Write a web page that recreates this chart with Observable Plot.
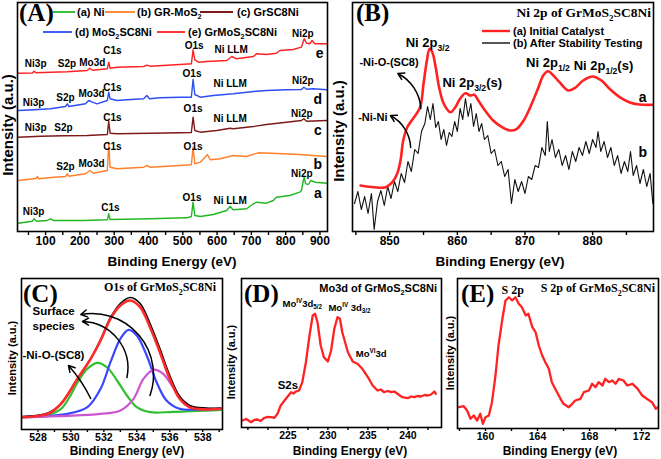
<!DOCTYPE html>
<html><head><meta charset="utf-8">
<script src="https://cdn.jsdelivr.net/npm/d3@7"></script>
<script src="https://cdn.jsdelivr.net/npm/@observablehq/plot@0.6"></script>
<style>
body{margin:0;background:#fff;}
#root{position:relative;width:661px;height:459px;overflow:hidden;background:#fff}
#root svg{position:absolute;overflow:visible}
</style></head><body><div id="root"></div>
<script>
// ---------- Panel A: XPS survey spectra [binding energy eV, intensity a.u.] ----------
const surveyNi = [[20,8.3],[61,10.3],[66,12.7],[74,10.3],[105,11],[114,12.7],[124,11],[211,11],[280,11.7],[284,17.7],[288,12],[405,12.7],[512,13.7],[525,15],[530,29.3],[535,16],[551,15],[589,17],[628,21],[638,25],[647,21.7],[686,22.7],[706,27.7],[715,29.3],[744,28.3],[764,31],[773,34.3],[812,36],[841,39.3],[846,41],[851,50],[854,54.3],[858,48],[863,47],[868,47.7],[873,51],[877,50.5],[885,49.3],[920,48.3]];
const surveyGrMoS2 = [[20,51],[72,53],[76,55],[80,52.7],[124,54.3],[158,55],[163,57.7],[168,55.3],[216,57.7],[229,61],[239,58.3],[280,61],[284,89.3],[288,64.3],[308,62.7],[386,64.3],[395,66],[405,64.3],[492,66],[525,66.7],[530,84.3],[535,67.7],[551,69.3],[565,74.3],[572,77],[580,71.7],[609,72.7],[647,76],[686,75],[710,77.7],[720,78.7],[793,77.7],[841,77],[920,75]];
const surveyGrSC8Ni = [[20,94.3],[85,95.3],[153,95.7],[221,96],[280,97],[284,110.3],[288,98.3],[308,97.7],[405,98.3],[492,98.7],[525,99],[530,114.3],[535,101],[551,99.3],[599,101],[638,103.3],[647,102.7],[706,105],[744,107],[802,109.3],[846,111],[853,112.7],[861,110.3],[920,111]];
const surveyMoS2SC8Ni = [[20,121],[66,121.7],[114,122.7],[158,125],[163,127.7],[168,125],[216,127.7],[226,131],[236,129.3],[250,127.7],[280,131],[284,139.3],[288,132.7],[308,131],[337,131.7],[386,132.7],[395,136],[403,132.7],[434,133.7],[492,134.3],[525,134.3],[530,152],[535,137],[551,134.3],[589,136],[647,137.7],[715,140.3],[744,141],[802,141.7],[846,142],[853,144.3],[861,142.3],[880,142.7],[920,141.7]];
const surveyGrMoS2SC8Ni = [[20,158.3],[62,158.5],[66,160.3],[72,158.7],[114,159.3],[163,159.7],[221,161],[229,163.3],[237,161.3],[280,162.7],[284,169.3],[288,163.3],[308,164.3],[386,165],[395,166.3],[405,165.3],[492,167],[525,167.7],[530,181.7],[535,171.7],[546,169.3],[570,170],[628,171],[643,175],[657,172.7],[706,175],[715,177.7],[744,177],[773,178.3],[783,181],[822,182],[846,184.3],[854,192.7],[861,188.3],[870,187.7],[877,191],[885,187.7],[920,187.7]];
const surveyNames = ["(a) Ni","(b) GR-MoS_{2}","(c) GrSC8Ni","(d) MoS_{2}SC8Ni","(e) GrMoS_{2}SC8Ni"];
const surveyTicks = [50,100,150,200,250,300,350,400,450,500,550,600,650,700,750,800,850,900];
const surveyTickLabels = [100,200,300,400,500,600,700,800,900];
const surveyPeakLabels = [
  ["Ni3p",71,168],["S2p",162,168],["Mo3d",236,169],["C1s",295,181],["O1s",533,186],["Ni LLM",641,182],["Ni2p",850,198],
  ["Ni3p",65,129],["S2p",158,134],["Mo3d",234,138],["C1s",295,144],["O1s",527,158],["Ni LLM",638,148],["Ni2p",850,151],
  ["Ni3p",71,104],["S2p",152,104],["C1s",295,114],["O1s",530,123],["Ni LLM",638,113],["Ni2p",847,118],
  ["S2p",158,65],["Mo3d",234,68],["C1s",295,85],["O1s",530,85],
  ["Ni3p",65,20],["C1s",289,24],["O1s",527,34],["Ni LLM",638,31],["Ni2p",847,58]
];
const surveyCurveTags = [["e",899,178],["d",894,132],["c",894,101],["b",894,67],["a",894,38]];

// ---------- Panel B: Ni 2p ----------
const ni2pInitial = [[845.7,46],[847.7,44.3],[849.4,44.3],[850.4,49.3],[851.1,57.7],[851.6,71],[852,91],[852.6,104.3],[853.6,114.3],[854.5,124.3],[855,147.7],[855.5,171],[855.9,182.7],[856.3,179.3],[856.8,164.3],[857.3,144.3],[858,127.7],[859,119.3],[859.7,124.3],[860.4,132.7],[861.2,138.3],[861.9,136],[862.5,136.7],[863.1,131],[864.1,121],[865.3,111],[866.6,104.3],[867.8,101],[868.8,102.7],[869.8,111],[871,127.7],[872,144.3],[872.7,156],[873.4,160.3],[874.2,156],[875.1,149.3],[876.4,141],[877.4,143.7],[878.6,151],[880,155],[881.3,151],[882.5,142.7],[884,134.3],[885.4,129.3],[886.9,127],[888.9,126.7]];
const ni2pAfter = [[844.8,28],[845.3,40],[845.8,22],[846.3,35],[846.8,18],[847.3,38],[847.7,2],[848.2,30],[848.7,41],[849.2,26],[849.7,45],[850.2,33],[850.7,50],[851.2,40],[851.7,58],[852.2,49],[852.7,70],[853.2,60],[853.7,82],[854.2,78],[854.7,100],[855.2,108],[855.6,125],[856,112],[856.4,128],[856.8,104],[857.2,110],[857.6,92],[858,102],[858.4,86],[858.8,99],[859.2,95],[859.6,110],[860,100],[860.4,123],[860.8,112],[861.2,133],[861.6,115],[862,128],[862.4,105],[862.8,118],[863.2,100],[863.6,108],[864,92],[864.5,96],[865,78],[865.5,82],[866,66],[866.5,70],[867,55],[867.5,62],[868,28],[868.5,52],[869,40],[869.5,50],[870,38],[870.5,55],[871,52],[871.5,66],[872,64],[872.5,84],[873,76],[873.3,110],[873.6,80],[874,92],[874.5,74],[875,82],[875.5,66],[876,76],[876.5,62],[877,80],[877.5,70],[878,84],[878.5,76],[879,90],[879.5,78],[880,92],[880.5,84],[880.8,100],[881.2,80],[881.7,90],[882.2,74],[882.7,84],[883.2,66],[883.7,76],[884.2,58],[884.7,70],[885.2,60],[885.6,80],[886,56],[886.5,66],[887,48],[887.5,62],[888,45],[888.5,58],[888.9,28]];
const ni2pNames = ["(a) Initial Catalyst","(b) After Stability Testing"];
const ni2pTicks = [845,850,855,860,865,870,875,880,885];
const ni2pTickLabels = [850,860,870,880];
const ni2pLabels = [["Ni 2p_{3/2}",855.6,189],["-Ni-O-(SC8)",849.9,169],["Ni 2p_{3/2}(s)",862.2,149],["Ni 2p_{1/2}",873.4,169],["Ni 2p_{1/2}(s)",881.6,166],["-Ni-Ni",847.5,114]];
const ni2pTags = [["a",887.4,134],["b",887.4,79]];
// arrows: [x1, y1, x2, y2, bend]
const ni2pArrows = [[854.6,123,851.2,158,-30],[853.1,84,850.1,116,-30]];

// ---------- Panel C: O1s ----------
const o1sRaw = [[527.05,14],[528.6,17.5],[529.4,27],[530.4,52],[531.2,72],[531.8,91],[532.4,113],[533,127],[533.6,133],[534.2,127],[534.8,107],[535.4,82],[536,55],[536.6,34],[537.2,25],[538.2,22.5],[539.1,22.5]];
const o1sEnvelope = [[527.05,13.3],[528.6,16.7],[529.4,26.7],[530.4,51.7],[531.2,71.7],[531.8,90],[532.4,111.7],[533,125],[533.6,130],[534.2,123.3],[534.8,103.3],[535.4,78.3],[536,51.7],[536.6,31.7],[537.2,23.3],[538.2,21],[539.1,21.7]];
const o1sNiO = [[527.05,13.3],[528.6,15.7],[529.4,21.7],[529.9,33],[530.4,48],[531,61.7],[531.6,67.7],[532.2,63],[532.8,50],[533.4,35],[534,23.3],[534.8,18.3],[536.2,18.7],[539.1,20.7]];
const o1sSurf1 = [[527.05,13.3],[529.8,16.7],[531,23.3],[531.8,41.7],[532.4,68.3],[533,91.7],[533.5,100.7],[534,95],[534.6,75],[535.2,48.3],[535.8,30],[536.6,21.7],[537.8,21],[539.1,21.7]];
const o1sSurf2 = [[527.05,13.3],[531.8,16.7],[533,20],[533.8,31.7],[534.4,51.7],[535,60.7],[535.6,56.7],[536.2,43.3],[536.8,30],[537.4,23.3],[538.2,21.7],[539.1,21.7]];
const o1sTicks = [528,529,530,531,532,533,534,535,536,537,538,539];
const o1sTickLabels = [528,530,532,534,536,538];
const o1sLabels = [["Surface",527.67,119],["species",527.67,104],["-Ni-O-(SC8)",527.06,75]];
const o1sArrows = [[531.2,32,529.85,65,-8],[534.8,35,530.6,116,-60],[533.4,53,530.7,109,-50]];

// ---------- Panel D: Mo3d ----------
const mo3d = [[219.3,7],[219.8,8.5],[220.4,5.3],[220.8,7.5],[221.2,8],[221.6,6.5],[222,9.3],[222.4,10.5],[222.9,10.3],[223.3,9.6],[223.7,13.7],[224.1,22],[224.75,28.7],[225.4,35.3],[225.7,34],[226,36],[226.4,37],[226.8,45.3],[227.25,65.3],[227.7,92],[228.1,112],[228.4,113.7],[228.7,105.3],[229.1,82],[229.5,70.3],[230,66],[230.4,77],[230.8,98.7],[231.2,110.3],[231.5,108.7],[231.8,95.3],[232.5,75.3],[233.1,66],[233.7,63.7],[234.3,58.7],[235,50.3],[235.6,42],[236.2,37],[236.6,38],[237,35.3],[237.5,36.5],[237.9,35.3],[238.3,36],[238.7,33.7],[239.3,30.3],[240,29.3],[240.4,31],[240.8,30.3],[241.2,31.5],[241.6,31],[242.1,32.5],[242.5,32],[242.9,33],[243.3,36],[243.5,33.7]];
const mo3dTicks = [220,222.5,225,227.5,230,232.5,235,237.5,240,242.5];
const mo3dTickLabels = [225,230,235,240];
const mo3dLabels = [["Mo^{IV}3d_{5/2}",226.8,124],["Mo^{IV} 3d_{3/2}",232.7,120],["Mo^{VI}3d",235.4,74],["S2s",225,42]];

// ---------- Panel E: S 2p ----------
const s2p = [[157.95,21.3],[158.33,22.3],[158.59,18],[158.85,9.7],[159.1,13],[159.36,8],[159.6,14.7],[159.8,4.7],[160,11.3],[160.26,13],[160.5,26.3],[160.77,53],[161,83],[161.3,109.7],[161.54,128],[161.8,131.3],[162.05,128],[162.3,131.3],[162.56,124.7],[162.8,121.3],[163.1,113],[163.3,114.7],[163.6,101.3],[163.85,96.3],[164.1,83],[164.36,73],[164.6,66.3],[164.87,59.7],[165.1,46.3],[165.5,36.3],[165.77,29.7],[166,24.7],[166.4,21.3],[166.67,24.7],[166.9,28],[167.3,29.7],[167.56,36.3],[167.95,38],[168.2,44.7],[168.46,41.3],[168.7,46.3],[169,43],[169.2,49.7],[169.5,46.3],[169.75,48],[170,44.7],[170.25,49.7],[170.6,48],[170.9,43],[171.3,44.7],[171.7,39.7],[172.05,33],[172.4,29.7],[172.8,26.3],[173.1,19.7],[173.25,21.3]];
const s2pTicks = [158,160,162,164,166,168,170,172];
const s2pTickLabels = [160,164,168,172];
const s2pLabels = [["S 2p",162.1,138]];

// ---------- rendering ----------
const root = document.getElementById("root");
const SANS = "'Liberation Sans', Arial, sans-serif";
const SERIF = "'Liberation Serif', 'Times New Roman', serif";
const NS = "http://www.w3.org/2000/svg";

function rich(sel) {
  sel.selectAll("text").each(function() {
    const t = this.textContent;
    if (!/[_^]\{/.test(t)) return;
    const fs = parseFloat(getComputedStyle(this).fontSize) || 10;
    while (this.firstChild) this.removeChild(this.firstChild);
    let shift = 0;
    for (const p of t.split(/([_^]\{[^}]*\})/)) {
      if (!p) continue;
      const ts = document.createElementNS(NS, "tspan");
      let target = 0, txt = p, small = false;
      if (p.startsWith("_{")) { target = 0.3 * fs; txt = p.slice(2, -1); small = true; }
      else if (p.startsWith("^{")) { target = -0.4 * fs; txt = p.slice(2, -1); small = true; }
      if (target - shift !== 0) ts.setAttribute("dy", (target - shift).toFixed(2));
      shift = target;
      if (small) ts.setAttribute("font-size", (0.66 * fs).toFixed(1));
      ts.textContent = txt;
      this.appendChild(ts);
    }
  });
}

const X = d => d[0], Y = d => d[1];
function labelMarks(arr, o = {}) {
  return Plot.text(arr, {x: d => d[1], y: d => d[2], text: d => d[0], fontFamily: o.ff || SANS, fontWeight: "bold", fontSize: o.fs || 11, textAnchor: o.anchor || "middle", fill: "#000"});
}
function arrowMarks(arr) {
  return arr.map(a => Plot.arrow([a], {x1: d => d[0], y1: d => d[1], x2: d => d[2], y2: d => d[3], bend: a[4], stroke: "#000", strokeWidth: 1.5, headLength: 7}));
}

function panel(o) {
  const svg = Plot.plot({
    width: o.w, height: o.h, marginLeft: o.ml, marginRight: o.mr, marginTop: o.mt, marginBottom: o.mb,
    x: {domain: o.xd}, y: {domain: o.yd, axis: null},
    style: {fontFamily: SANS, fontWeight: "bold", background: "transparent", overflow: "visible", color: "#000"},
    marks: [
      ...o.marks,
      Plot.axisX({ticks: o.ticks, tickFormat: d => o.labels.includes(d) ? String(d) : "", tickSize: o.ts || 4, tickPadding: 1, fontSize: o.fs, strokeWidth: 1.4}),
      Plot.frame({stroke: "#000", strokeWidth: 1.6})
    ]
  });
  svg.style.left = o.x + "px"; svg.style.top = o.y + "px";
  root.appendChild(svg);
  rich(d3.select(svg));
  return svg;
}

const surveyColors = ["#22b722", "#ff7f2a", "#7d1a1a", "#2d4df5", "#ff2222"];
const surveySeries = [surveyNi, surveyGrMoS2, surveyGrSC8Ni, surveyMoS2SC8Ni, surveyGrMoS2SC8Ni];

// Panel A
panel({x: 0, y: 0, w: 335, h: 270, ml: 17, mr: 8, mt: 2, mb: 39, xd: [18, 922], yd: [0, 229], ticks: surveyTicks, labels: surveyTickLabels, fs: 12,
  marks: [
    ...surveySeries.map((s, i) => Plot.line(s, {x: X, y: Y, stroke: surveyColors[i], strokeWidth: 1.4, clip: true})),
    labelMarks(surveyPeakLabels, {fs: 10}),
    labelMarks(surveyCurveTags, {fs: 14})
  ]});

// Panel B
panel({x: 335, y: 0, w: 326, h: 270, ml: 17, mr: 8, mt: 2, mb: 39, xd: [844.5, 889], yd: [0, 229], ticks: ni2pTicks, labels: ni2pTickLabels, fs: 12,
  marks: [
    Plot.line(ni2pAfter, {x: X, y: Y, stroke: "#111", strokeWidth: 1.1, clip: true}),
    Plot.line(ni2pInitial, {x: X, y: Y, stroke: "#ff2222", strokeWidth: 2.6, curve: "catmull-rom", clip: true}),
    ...arrowMarks(ni2pArrows),
    labelMarks(ni2pLabels.filter(d => d[0].startsWith("Ni")), {fs: 13}),
    labelMarks(ni2pLabels.filter(d => d[0].startsWith("-")), {fs: 11}),
    labelMarks(ni2pTags, {fs: 14})
  ]});

// Panel C
panel({x: 0, y: 270, w: 230, h: 189, ml: 21, mr: 8, mt: 8, mb: 30, xd: [527, 539.2], yd: [1, 152], ticks: o1sTicks, labels: o1sTickLabels, fs: 10.5, ts: 3,
  marks: [
    Plot.line(o1sNiO, {x: X, y: Y, stroke: "#2fbf2f", strokeWidth: 2.2, curve: "catmull-rom", clip: true}),
    Plot.line(o1sSurf1, {x: X, y: Y, stroke: "#3a46ff", strokeWidth: 2.2, curve: "catmull-rom", clip: true}),
    Plot.line(o1sSurf2, {x: X, y: Y, stroke: "#cc55d0", strokeWidth: 2.2, curve: "catmull-rom", clip: true}),
    Plot.line(o1sRaw, {x: X, y: Y, stroke: "#000", strokeWidth: 1.6, curve: "catmull-rom", clip: true}),
    Plot.line(o1sEnvelope, {x: X, y: Y, stroke: "#ff2a2a", strokeWidth: 2.6, curve: "catmull-rom", clip: true}),
    ...arrowMarks(o1sArrows),
    labelMarks(o1sLabels, {fs: 11.5, anchor: "start"})
  ]});

// Panel D
panel({x: 230, y: 270, w: 218, h: 189, ml: 11, mr: 7, mt: 8, mb: 32, xd: [219.2, 244.2], yd: [0, 149], ticks: mo3dTicks, labels: mo3dTickLabels, fs: 10.5, ts: 3,
  marks: [
    Plot.line(mo3d, {x: X, y: Y, stroke: "#ff2222", strokeWidth: 2.3, clip: true}),
    labelMarks(mo3dLabels.slice(0, 3), {fs: 9.5}),
    labelMarks(mo3dLabels.slice(3), {fs: 11.5})
  ]});

// Panel E
panel({x: 448, y: 270, w: 213, h: 189, ml: 9, mr: 3, mt: 8, mb: 31, xd: [157.85, 173.3], yd: [0, 150], ticks: s2pTicks, labels: s2pTickLabels, fs: 10.5, ts: 3,
  marks: [
    Plot.line(s2p, {x: X, y: Y, stroke: "#ff2222", strokeWidth: 2.3, clip: true}),
    labelMarks(s2pLabels, {fs: 12, ff: SERIF})
  ]});

// Overlay: panel letters, titles, legends, axis titles
const ov = d3.select(root).append("svg").attr("width", 661).attr("height", 459).style("left", "0px").style("top", "0px");
function T(x, y, txt, o = {}) {
  const t = ov.append("text").attr("font-family", o.ff || SANS).attr("font-weight", "bold")
    .attr("font-size", o.fs || 11).attr("text-anchor", o.anchor || "start").attr("fill", "#000").text(txt);
  if (o.rot) t.attr("transform", `translate(${x},${y}) rotate(-90)`).attr("dominant-baseline", "central");
  else t.attr("x", x).attr("y", y);
  return t;
}
function L(x1, x2, y, c, w) { ov.append("line").attr("x1", x1).attr("x2", x2).attr("y1", y).attr("y2", y).attr("stroke", c).attr("stroke-width", w); }

// panel letters
T(19, 21, "(A)", {ff: SERIF, fs: 25});
T(356, 21, "(B)", {ff: SERIF, fs: 25});
T(23, 302, "(C)", {ff: SERIF, fs: 25});
T(244, 302, "(D)", {ff: SERIF, fs: 25});
T(461, 302, "(E)", {ff: SERIF, fs: 25});

// legend A
const legA = [[53, 75, 77, 12], [105, 135, 137, 12], [200, 233, 237, 12], [43, 72, 75, 32], [157, 185, 188, 32]];
legA.forEach((p, i) => { L(p[0], p[1], p[3], surveyColors[i], 1.8); T(p[2], p[3] + 4, surveyNames[i], {fs: 11}); });

// titles & legend B
T(651, 17, "Ni 2p of GrMoS_{2}SC8Ni", {ff: SERIF, fs: 13.5, anchor: "end"});
L(482, 510, 31, "#ff2222", 2.4); T(513, 35, ni2pNames[0], {fs: 11});
L(482, 510, 43, "#111", 1.4); T(513, 47, ni2pNames[1], {fs: 11});

T(216, 291, "O1s of GrMoS_{2}SC8Ni", {ff: SERIF, fs: 12, anchor: "end"});
T(437, 292, "Mo3d of GrMoS_{2}SC8Ni", {fs: 11, anchor: "end"});
T(655, 292, "S 2p of GrMoS_{2}SC8Ni", {ff: SERIF, fs: 12, anchor: "end"});

// axis titles
T(172, 266, "Binding Energy (eV)", {fs: 13.5, anchor: "middle"});
T(500, 266, "Binding Energy (eV)", {fs: 13.5, anchor: "middle"});
T(127, 455, "Binding Energy (eV)", {fs: 12, anchor: "middle"});
T(350, 455, "Binding Energy (eV)", {fs: 12, anchor: "middle"});
T(560, 455, "Binding Energy (eV)", {fs: 12, anchor: "middle"});
T(7, 125, "Intensity (a.u.)", {fs: 15, anchor: "middle", rot: true});
T(338, 131, "Intensity (a.u.)", {fs: 15, anchor: "middle", rot: true});
T(12, 358, "Intensity (a.u.)", {fs: 11, anchor: "middle", rot: true});
T(231, 362, "Intensity (a.u.)", {fs: 11, anchor: "middle", rot: true});
T(450, 353, "Intensity (a.u.)", {fs: 11, anchor: "middle", rot: true});
rich(ov);
</script></body></html>
